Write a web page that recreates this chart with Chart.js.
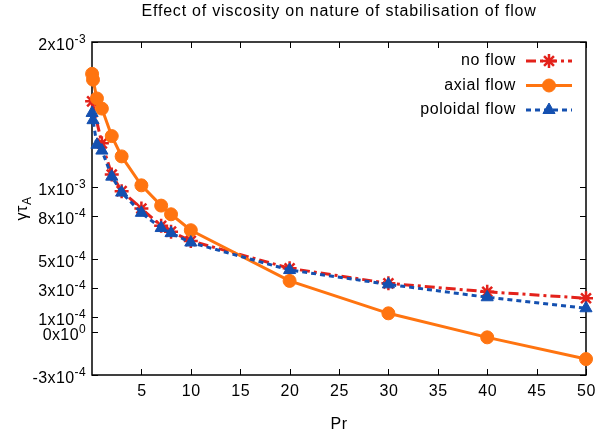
<!DOCTYPE html>
<html>
<head>
<meta charset="utf-8">
<script src="https://cdn.jsdelivr.net/npm/chart.js@4.4.0/dist/chart.umd.min.js"></script>
<style>
  html, body { margin: 0; padding: 0; background: #fff; }
  #wrap { width: 599px; height: 439px; }
</style>
</head>
<body>
<div id="wrap"><canvas id="stabChart" width="599" height="439"></canvas></div>
<script>
// Growth rate (gamma * tau_A) against Prandtl number
const noFlowPr     = [0.01, 1, 2, 3, 5, 7, 8, 10, 20, 30, 40, 50];
const noFlowRate   = [1.59e-3, 1.30e-3, 1.085e-3, 9.7e-4, 8.5e-4, 7.3e-4, 6.9e-4, 6.26e-4, 4.37e-4, 3.33e-4, 2.75e-4, 2.30e-4];

const axialPr      = [0.01, 0.1, 0.5, 1, 2, 3, 5, 7, 8, 10, 20, 30, 40, 50];
const axialRate    = [1.78e-3, 1.74e-3, 1.61e-3, 1.54e-3, 1.35e-3, 1.21e-3, 1.01e-3, 8.7e-4, 8.1e-4, 7.0e-4, 3.5e-4, 1.26e-4, -4.0e-5, -1.9e-4];

const poloidalPr   = [0.01, 0.1, 0.5, 1, 2, 3, 5, 7, 8, 10, 20, 30, 40, 50];
const poloidalRate = [1.51e-3, 1.46e-3, 1.29e-3, 1.25e-3, 1.07e-3, 9.6e-4, 8.2e-4, 7.15e-4, 6.8e-4, 6.15e-4, 4.25e-4, 3.26e-4, 2.37e-4, 1.61e-4];

// axis ticks
const xTicks = [5, 10, 15, 20, 25, 30, 35, 40, 45, 50];
const yTicks = [2e-3, 1e-3, 8e-4, 5e-4, 3e-4, 1e-4, 0, -3e-4];
const yTickMant = ['2', '1', '8', '5', '3', '1', '0', '-3'];
const yTickExp  = ['-3', '-3', '-4', '-4', '-4', '-4', '0', '-4'];

const FONT = '"Liberation Sans", Arial, Helvetica, sans-serif';

function toPoints(xs, ys) {
    return xs.map((x, i) => ({ x: x, y: ys[i] }));
}

// the reference text is set a little loose, like gnuplot/cairo output
function setFont(ctx, px, spacing) {
    ctx.font = px + 'px ' + FONT;
    ctx.letterSpacing = (spacing === undefined ? 0.6 : spacing) + 'px';
}

// gnuplot-like frame, inward ticks and labels
const gnuplotFrame = {
    id: 'gnuplotFrame',
    beforeDatasetsDraw(chart) {
        const { ctx, chartArea: a, scales } = chart;
        ctx.save();
        ctx.strokeStyle = '#000';
        ctx.lineWidth = 1.5;
        ctx.setLineDash([]);
        ctx.strokeRect(a.left, a.top, a.right - a.left, a.bottom - a.top);
        ctx.lineWidth = 1;
        ctx.beginPath();
        xTicks.forEach(v => {
            const px = Math.round(scales.x.getPixelForValue(v)) + 0.5;
            ctx.moveTo(px, a.bottom); ctx.lineTo(px, a.bottom - 6);
            ctx.moveTo(px, a.top); ctx.lineTo(px, a.top + 6);
        });
        yTicks.forEach(v => {
            const py = Math.round(scales.y.getPixelForValue(v)) + 0.5;
            ctx.moveTo(a.left, py); ctx.lineTo(a.left + 6, py);
            ctx.moveTo(a.right, py); ctx.lineTo(a.right - 6, py);
        });
        ctx.stroke();
        ctx.restore();
    },
    afterDraw(chart) {
        const { ctx, chartArea: a, scales } = chart;
        ctx.save();
        ctx.fillStyle = '#000';

        // title
        setFont(ctx, 16, 0.8);
        ctx.textAlign = 'center';
        ctx.textBaseline = 'alphabetic';
        ctx.fillText('Effect of viscosity on nature of stabilisation of flow', (a.left + a.right) / 2, 16);

        // x tick labels
        setFont(ctx, 16);
        xTicks.forEach(v => {
            ctx.fillText(String(v), scales.x.getPixelForValue(v) + 0.5, 396);
        });

        // x title
        ctx.fillText('Pr', (a.left + a.right) / 2, 429);

        // y tick labels with superscript exponent
        ctx.textAlign = 'left';
        yTicks.forEach((v, i) => {
            const py = scales.y.getPixelForValue(v);
            const main = yTickMant[i] + 'x10';
            setFont(ctx, 16, 0.4);
            const wMain = ctx.measureText(main).width;
            setFont(ctx, 12, 0.4);
            const wExp = ctx.measureText(yTickExp[i]).width;
            const x0 = a.left - 6 - wMain - wExp;
            setFont(ctx, 16, 0.4);
            ctx.fillText(main, x0, py + 8);
            setFont(ctx, 12, 0.4);
            ctx.fillText(yTickExp[i], x0 + wMain, py + 1);
        });

        // y title: gamma tau_A, rotated
        ctx.translate(27, (a.top + a.bottom) / 2);
        ctx.rotate(-Math.PI / 2);
        setFont(ctx, 16);
        const wg = ctx.measureText('γτ').width;
        setFont(ctx, 12);
        const wa = ctx.measureText('A').width;
        const sx = -(wg + wa) / 2;
        setFont(ctx, 16);
        ctx.fillText('γτ', sx, 0);
        setFont(ctx, 12);
        ctx.fillText('A', sx + wg, 4);
        ctx.restore();

        // legend: text right aligned, then line sample with marker
        const rowY = [61, 85.5, 110];
        const legendOrder = [0, 1, 2];
        ctx.save();
        legendOrder.forEach((di, r) => {
            const ds = chart.data.datasets[di];
            const y = rowY[r];
            ctx.fillStyle = '#000';
            setFont(ctx, 16);
            ctx.textAlign = 'right';
            ctx.textBaseline = 'middle';
            ctx.fillText(ds.label, 516, y);
            ctx.strokeStyle = ds.borderColor;
            ctx.lineWidth = ds.borderWidth;
            ctx.setLineDash(ds.borderDash || []);
            ctx.beginPath();
            ctx.moveTo(526, y); ctx.lineTo(572, y);
            ctx.stroke();
            ctx.setLineDash([]);
            ctx.fillStyle = ds.backgroundColor;
            ctx.lineWidth = ds.pointBorderWidth || 1;
            Chart.helpers.drawPoint(ctx, {
                pointStyle: ds.pointStyle,
                radius: ds.pointRadius,
                rotation: 0,
                borderWidth: ds.pointBorderWidth || 1
            }, 549, y);
        });
        ctx.restore();
    }
};

new Chart(document.getElementById('stabChart'), {
    type: 'line',
    data: {
        datasets: [
            {
                label: 'no flow',
                data: toPoints(noFlowPr, noFlowRate),
                borderColor: '#e3221b',
                backgroundColor: '#e3221b',
                borderWidth: 3,
                borderDash: [10, 4, 3, 4],
                pointStyle: 'star',
                pointRadius: 7,
                pointBorderWidth: 2.5,
                tension: 0,
                clip: false,
                order: 3
            },
            {
                label: 'axial flow',
                data: toPoints(axialPr, axialRate),
                borderColor: '#ff7410',
                backgroundColor: '#ff7410',
                borderWidth: 3,
                pointStyle: 'circle',
                pointRadius: 6.5,
                pointBorderWidth: 1,
                tension: 0,
                clip: false,
                order: 2
            },
            {
                label: 'poloidal flow',
                data: toPoints(poloidalPr, poloidalRate),
                borderColor: '#1450b0',
                backgroundColor: '#1450b0',
                borderWidth: 3,
                borderDash: [5, 4],
                pointStyle: 'triangle',
                pointRadius: 7,
                pointBorderWidth: 1,
                tension: 0,
                clip: false,
                order: 1
            }
        ]
    },
    options: {
        responsive: false,
        animation: false,
        events: [],
        layout: { padding: { top: 42, right: 13, left: 0, bottom: 0 } },
        plugins: {
            legend: { display: false },
            title: { display: false },
            tooltip: { enabled: false }
        },
        scales: {
            x: {
                type: 'linear',
                min: 0,
                max: 50,
                grid: { display: false, drawTicks: false },
                border: { display: false },
                ticks: { display: false },
                afterBuildTicks: scale => { scale.ticks = xTicks.map(v => ({ value: v })); },
                afterFit: scale => { scale.height = 64; }
            },
            y: {
                type: 'linear',
                min: -3e-4,
                max: 2e-3,
                grid: { display: false, drawTicks: false },
                border: { display: false },
                ticks: { display: false },
                afterBuildTicks: scale => { scale.ticks = yTicks.map(v => ({ value: v })); },
                afterFit: scale => { scale.width = 92; }
            }
        }
    },
    plugins: [gnuplotFrame]
});
</script>
</body>
</html>
